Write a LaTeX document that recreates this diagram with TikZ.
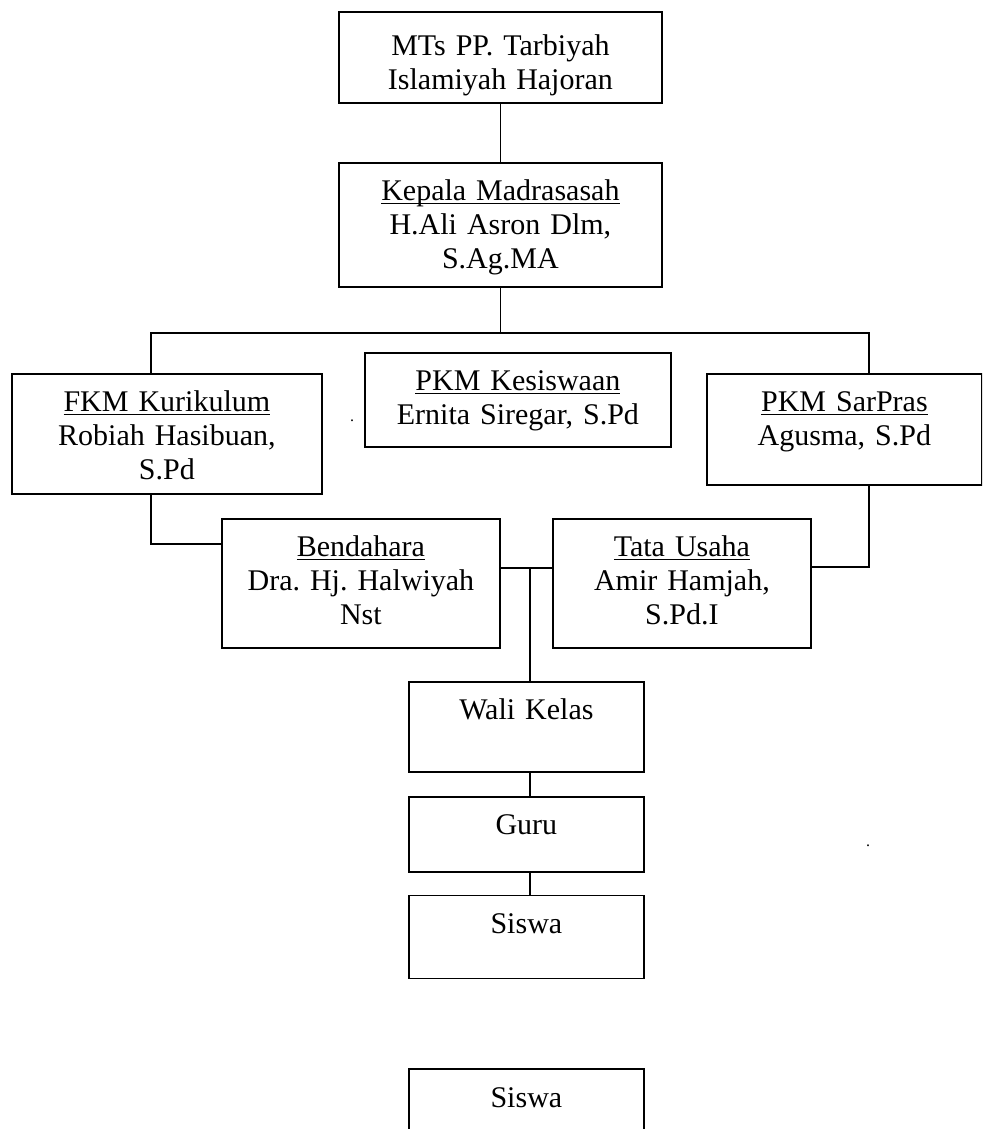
\documentclass[tikz,border=0pt]{standalone}
\usepackage{fontspec}
\setmainfont{Liberation Serif}
\usepackage{tikz}
\usetikzlibrary{positioning}

\newcommand{\uln}[1]{\leavevmode\setbox0=\hbox{#1}\rlap{\rule[-1.6pt]{\wd0}{0.7pt}}\box0}

\begin{document}
\begin{tikzpicture}[
    x=0.5pt, y=-0.5pt,
    box/.style={rectangle, draw, line width=0.9pt, anchor=north west, inner sep=0pt, align=center, font=\fontsize{15pt}{17pt}\selectfont\frenchspacing, text height=19pt},
    line/.style={line width=0.9pt}
]
    \useasboundingbox (0,0) rectangle (982,1129);
    \clip (0,0) rectangle (982,1129);

    % Madrasah
    \node[box, text width=161.5pt, text height=22pt, text depth=23.5pt] (mts) at (338,11) {MTs PP. Tarbiyah\\Islamiyah Hajoran};

    % Kepala
    \node[box, text width=161.5pt, text depth=43pt] (kepala) at (338,162) {\uln{Kepala Madrasasah}\\H.Ali Asron Dlm,\\S.Ag.MA};

    % Wakil
    \node[box, text width=155pt, text depth=41pt] (kurikulum) at (11,373) {\uln{FKM Kurikulum}\\Robiah Hasibuan,\\S.Pd};
    \node[box, text width=153pt, text depth=28pt] (kesiswaan) at (364,352) {\uln{PKM Kesiswaan}\\Ernita Siregar, S.Pd};
    \node[box, text width=137.5pt, text depth=36.5pt] (sarpras) at (706,373) {\uln{PKM SarPras}\\Agusma, S.Pd};

    % Bendahara, TU
    \node[box, text width=139pt, text depth=45.5pt] (bendahara) at (221,518) {\uln{Bendahara}\\Dra. Hj. Halwiyah\\Nst};
    \node[box, text width=129pt, text depth=45.5pt] (tatausaha) at (552,518) {\uln{Tata Usaha}\\Amir Hamjah,\\S.Pd.I};

    % Kelas
    \node[box, text width=117.5pt, text depth=26pt] (walikelas) at (408,681) {Wali Kelas};
    \node[box, text width=117.5pt, text depth=18.5pt, below=11.5pt of walikelas] (guru) {Guru};
    \node[box, text width=117.5pt, text depth=22.5pt, below=11pt of guru] (siswa) {Siswa};
    \node[box, text width=117.5pt, text depth=31pt, below=44.5pt of siswa] (siswab) {Siswa};

    % stray dots
    \node[font=\footnotesize, inner sep=0pt] (dota) at (352,421) {.};
    \node[font=\footnotesize, inner sep=0pt] (dotb) at (868,846) {.};

    % Lines
    \draw[line] (mts) -- (kepala);
    \draw[line] (kepala.south) -- ++(0,45) coordinate (bus);
    \draw[line] ([xshift=-8pt]kurikulum.north) |- (bus) -| ([xshift=12.25pt]sarpras.north);
    \draw[line] ([xshift=-8pt]kurikulum.south) |- ([yshift=19.75pt]bendahara.west);
    \draw[line] ([xshift=12.25pt]sarpras.south) |- ([yshift=8.25pt]tatausaha.east);
    \draw[line] ([yshift=7.75pt]bendahara.east) coordinate (bl) -- ([yshift=7.75pt]tatausaha.west);
    \coordinate (jn) at ([xshift=1.75pt]walikelas.north);
    \draw[line] (jn) -- (jn |- bl);
    \draw[line] ([xshift=1.75pt]walikelas.south) -- ([xshift=1.75pt]guru.north);
    \draw[line] ([xshift=1.75pt]guru.south) -- ([xshift=1.75pt]siswa.north);

\end{tikzpicture}
\end{document}
